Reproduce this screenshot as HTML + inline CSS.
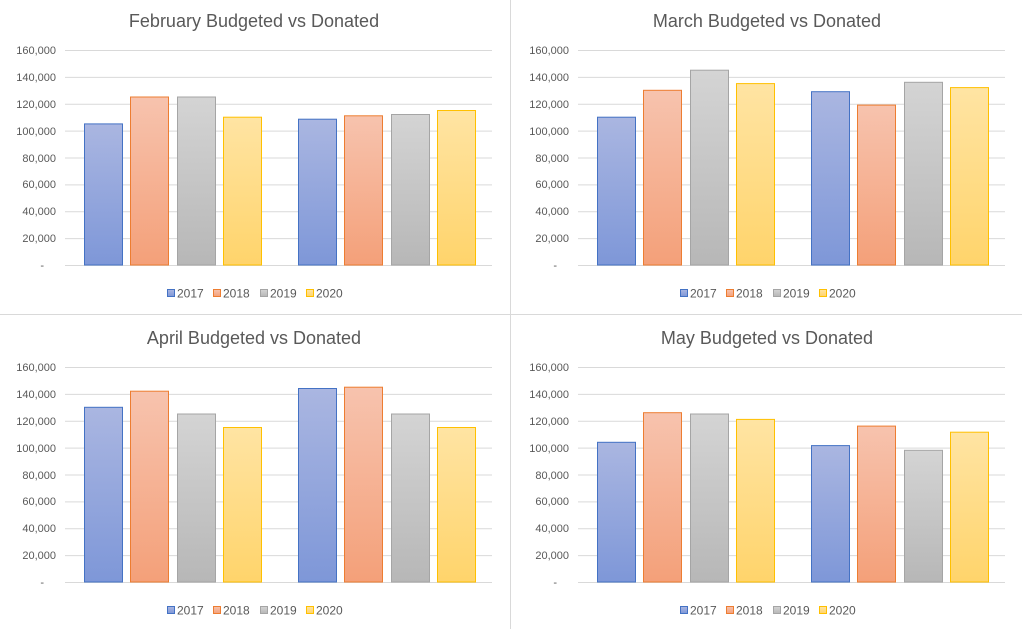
<!DOCTYPE html>
<html><head><meta charset="utf-8"><style>
html,body{margin:0;padding:0;background:#fff;}
svg{display:block;font-family:"Liberation Sans",sans-serif;}
.t{font-size:18px;fill:#595959;text-anchor:middle;}
.a{font-size:11px;fill:#595959;text-anchor:end;}
.l{font-size:12px;fill:#595959;}
.g{stroke:#d9d9d9;stroke-width:1;}
.b1{fill:url(#gb);stroke:#4472c4;}
.b2{fill:url(#go);stroke:#ed7d31;}
.b3{fill:url(#gg);stroke:#a5a5a5;}
.b4{fill:url(#gy);stroke:#ffc000;}
</style></head><body>
<svg width="1022" height="629" viewBox="0 0 1022 629">
<defs>
<linearGradient id="gb" x1="0" y1="0" x2="0" y2="1"><stop offset="0" stop-color="#aab6e1"/><stop offset="1" stop-color="#7e97d8"/></linearGradient>
<linearGradient id="go" x1="0" y1="0" x2="0" y2="1"><stop offset="0" stop-color="#f7c3ae"/><stop offset="1" stop-color="#f4a079"/></linearGradient>
<linearGradient id="gg" x1="0" y1="0" x2="0" y2="1"><stop offset="0" stop-color="#d4d4d4"/><stop offset="1" stop-color="#b7b7b7"/></linearGradient>
<linearGradient id="gy" x1="0" y1="0" x2="0" y2="1"><stop offset="0" stop-color="#ffe4a3"/><stop offset="1" stop-color="#ffd46b"/></linearGradient>
<g id="axes">
<line class="g" x1="65" x2="492" y1="50.5" y2="50.5"/>
<line class="g" x1="65" x2="492" y1="77.4" y2="77.4"/>
<line class="g" x1="65" x2="492" y1="104.3" y2="104.3"/>
<line class="g" x1="65" x2="492" y1="131.1" y2="131.1"/>
<line class="g" x1="65" x2="492" y1="158" y2="158"/>
<line class="g" x1="65" x2="492" y1="184.9" y2="184.9"/>
<line class="g" x1="65" x2="492" y1="211.8" y2="211.8"/>
<line class="g" x1="65" x2="492" y1="238.6" y2="238.6"/>
<line class="g" x1="65" x2="492" y1="265.5" y2="265.5"/>
<text class="a" x="56" y="54">160,000</text>
<text class="a" x="56" y="81">140,000</text>
<text class="a" x="56" y="108">120,000</text>
<text class="a" x="56" y="135">100,000</text>
<text class="a" x="56" y="162">80,000</text>
<text class="a" x="56" y="188">60,000</text>
<text class="a" x="56" y="215">40,000</text>
<text class="a" x="56" y="242">20,000</text>
<text class="a" x="44" y="269">-</text>
<rect class="b1" x="167.5" y="289.5" width="7" height="7"/><text class="l" x="177" y="297.5">2017</text>
<rect class="b2" x="213.5" y="289.5" width="7" height="7"/><text class="l" x="223" y="297.5">2018</text>
<rect class="b3" x="260.5" y="289.5" width="7" height="7"/><text class="l" x="270" y="297.5">2019</text>
<rect class="b4" x="306.5" y="289.5" width="7" height="7"/><text class="l" x="316" y="297.5">2020</text>
</g>
</defs>
<line x1="510.5" y1="0" x2="510.5" y2="629" stroke="#d9d9d9"/>
<line x1="0" y1="314.5" x2="1022" y2="314.5" stroke="#d9d9d9"/>

<g>
<use href="#axes"/>
<text class="t" x="254" y="27">February Budgeted vs Donated</text>
<rect class="b1" x="84.5" y="123.9" width="38" height="141.1"/>
<rect class="b2" x="130.5" y="97" width="38" height="168"/>
<rect class="b3" x="177.5" y="97" width="38" height="168"/>
<rect class="b4" x="223.5" y="117.2" width="38" height="147.8"/>
<rect class="b1" x="298.5" y="119.2" width="38" height="145.8"/>
<rect class="b2" x="344.5" y="115.8" width="38" height="149.2"/>
<rect class="b3" x="391.5" y="114.5" width="38" height="150.5"/>
<rect class="b4" x="437.5" y="110.5" width="38" height="154.5"/>
</g>

<g transform="translate(513,0)">
<use href="#axes"/>
<text class="t" x="254" y="27">March Budgeted vs Donated</text>
<rect class="b1" x="84.5" y="117.2" width="38" height="147.8"/>
<rect class="b2" x="130.5" y="90.3" width="38" height="174.7"/>
<rect class="b3" x="177.5" y="70.2" width="38" height="194.8"/>
<rect class="b4" x="223.5" y="83.6" width="38" height="181.4"/>
<rect class="b1" x="298.5" y="91.7" width="38" height="173.3"/>
<rect class="b2" x="344.5" y="105.1" width="38" height="159.9"/>
<rect class="b3" x="391.5" y="82.3" width="38" height="182.7"/>
<rect class="b4" x="437.5" y="87.6" width="38" height="177.4"/>
</g>

<g transform="translate(0,317)">
<use href="#axes"/>
<text class="t" x="254" y="27">April Budgeted vs Donated</text>
<rect class="b1" x="84.5" y="90.3" width="38" height="174.7"/>
<rect class="b2" x="130.5" y="74.2" width="38" height="190.8"/>
<rect class="b3" x="177.5" y="97" width="38" height="168"/>
<rect class="b4" x="223.5" y="110.5" width="38" height="154.5"/>
<rect class="b1" x="298.5" y="71.5" width="38" height="193.5"/>
<rect class="b2" x="344.5" y="70.2" width="38" height="194.8"/>
<rect class="b3" x="391.5" y="97" width="38" height="168"/>
<rect class="b4" x="437.5" y="110.5" width="38" height="154.5"/>
</g>

<g transform="translate(513,317)">
<use href="#axes"/>
<text class="t" x="254" y="27">May Budgeted vs Donated</text>
<rect class="b1" x="84.5" y="125.3" width="38" height="139.7"/>
<rect class="b2" x="130.5" y="95.7" width="38" height="169.3"/>
<rect class="b3" x="177.5" y="97" width="38" height="168"/>
<rect class="b4" x="223.5" y="102.4" width="38" height="162.6"/>
<rect class="b1" x="298.5" y="128.6" width="38" height="136.4"/>
<rect class="b2" x="344.5" y="109.1" width="38" height="155.9"/>
<rect class="b3" x="391.5" y="133.3" width="38" height="131.7"/>
<rect class="b4" x="437.5" y="115.2" width="38" height="149.8"/>
</g>
</svg>
</body></html>
